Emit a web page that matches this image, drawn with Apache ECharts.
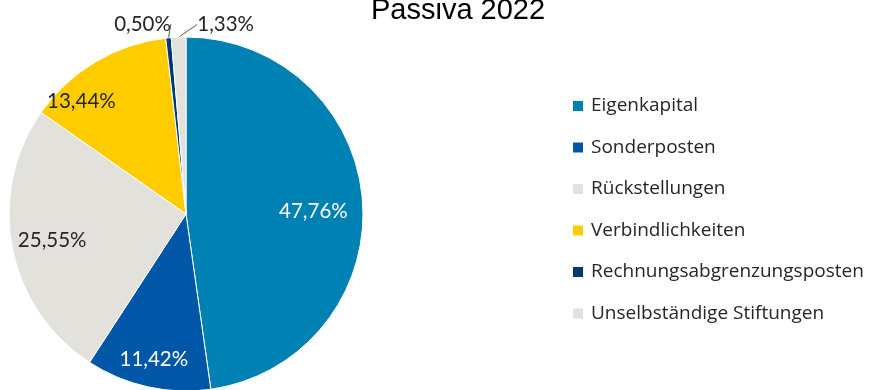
<!DOCTYPE html>
<html>
<head>
<meta charset="utf-8">
<script src="https://cdn.jsdelivr.net/npm/echarts@6/dist/echarts.min.js"></script>
<style>
html,body{margin:0;padding:0;background:#fff;}
#chart{width:872px;height:390px;}
</style>
</head>
<body>
<div id="chart"></div>
<script>
// ---- data ----
const TITLE = 'Passiva 2022';
const categories = ['Eigenkapital', 'Sonderposten', 'Rückstellungen', 'Verbindlichkeiten', 'Rechnungsabgrenzungsposten', 'Unselbständige Stiftungen'];
const values = [47.76, 11.42, 25.55, 13.44, 0.50, 1.33];

// ---- style ----
const COLORS = ['#0081B4', '#0056A7', '#E2E1DC', '#FFCC00', '#003A75', '#E2E1DC'];
const LABEL_COLORS = ['#FFFFFF', '#FFFFFF', '#262626', '#262626', '#262626', '#262626'];
const LABEL_OUTSIDE = [false, false, false, false, true, true];
// label placement: radial fraction of radius and angular shift (deg, clockwise)
const LABEL_RADIAL = [0.72, 0.84, 0.77, 0.87, 1.101, 1.094];
const LABEL_ANGLE_SHIFT = [2.7, 0, 0, -12, -7.2, 14.2];
const CX = 186, CY = 214, R = 177;

const total = values.reduce((a, b) => a + b, 0);
const midAngles = [];
let acc = 0;
values.forEach(v => { midAngles.push((acc + v / 2) / total * 360); acc += v; });

const chart = echarts.init(document.getElementById('chart'), null, {renderer: 'canvas'});
const fmt = v => v.toFixed(2).replace('.', ',') + '%';

chart.setOption({
  animation: false,
  color: COLORS,
  title: {
    text: TITLE,
    left: 366,
    top: -9,
    textStyle: {fontFamily: 'Liberation Sans', fontSize: 29, fontWeight: 'normal', color: '#000'}
  },
  legend: {
    orient: 'vertical',
    left: 571,
    top: 96,
    padding: 0,
    itemWidth: 12,
    itemHeight: 12,
    itemGap: 21.5,
    icon: 'rect',
    data: categories,
    textStyle: {fontFamily: 'Open Sans', fontSize: 19, color: '#262626', lineHeight: 20, padding: [0, 0, 0, 2]}
  },
  series: [{
    type: 'pie',
    center: [CX, CY],
    radius: [0, R],
    startAngle: 90,
    clockwise: true,
    avoidLabelOverlap: false,
    itemStyle: {borderColor: '#fff', borderWidth: 1},
    data: categories.map((c, i) => ({
      name: c,
      value: values[i],
      label: {
        show: true,
        position: LABEL_OUTSIDE[i] ? 'outside' : 'inside',
        color: LABEL_COLORS[i]
      },
      labelLine: {show: LABEL_OUTSIDE[i], length: 10, length2: 0, lineStyle: {color: '#595959', width: 1}}
    })),
    label: {
      fontFamily: 'Lato',
      fontSize: 20.5,
      formatter: p => fmt(p.value)
    },
    labelLayout: function (p) {
      const i = p.dataIndex;
      const a = (midAngles[i] + LABEL_ANGLE_SHIFT[i]) * Math.PI / 180;
      const d = LABEL_RADIAL[i] * R;
      return {
        x: CX + d * Math.sin(a),
        y: CY - d * Math.cos(a),
        align: 'center',
        verticalAlign: 'middle'
      };
    }
  }]
});
</script>
</body>
</html>
